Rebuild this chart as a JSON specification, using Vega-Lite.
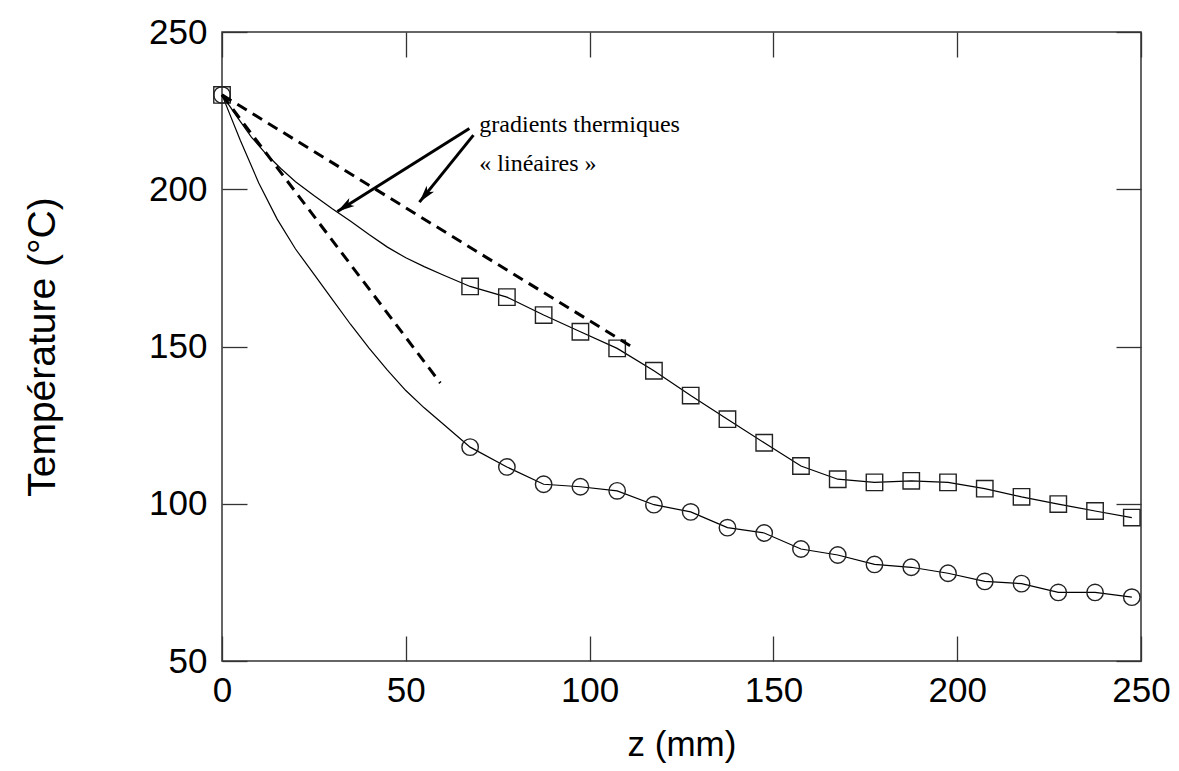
{
  "$schema": "https://vega.github.io/schema/vega-lite/v6.json",
  "width": 919,
  "height": 629,
  "autosize": {"type": "none"},
  "padding": {"left": 222, "top": 32, "right": 38, "bottom": 110},
  "background": "white",
  "config": {
    "view": {"stroke": "#333", "strokeWidth": 1.5},
    "axis": {
      "grid": false,
      "domain": false,
      "labelFont": "Liberation Sans",
      "titleFont": "Liberation Sans",
      "labelColor": "#000",
      "titleColor": "#000",
      "titleFontWeight": "normal",
      "tickColor": "#333",
      "tickWidth": 1.3,
      "tickSize": -25,
      "labelFlush": false,
      "labelOverlap": false,
      "labelBound": false
    }
  },
  "datasets": {
    "curves": [
      {"series": "carrés", "z": 0, "T": 230},
      {"series": "carrés", "z": 4, "T": 223.2},
      {"series": "carrés", "z": 8, "T": 216.6},
      {"series": "carrés", "z": 12, "T": 211.2},
      {"series": "carrés", "z": 16, "T": 206.6},
      {"series": "carrés", "z": 20, "T": 202.4},
      {"series": "carrés", "z": 25, "T": 198},
      {"series": "carrés", "z": 30, "T": 193.8},
      {"series": "carrés", "z": 35, "T": 189.8},
      {"series": "carrés", "z": 40, "T": 185.6},
      {"series": "carrés", "z": 45, "T": 181.6},
      {"series": "carrés", "z": 50, "T": 178.2},
      {"series": "carrés", "z": 55, "T": 175.4},
      {"series": "carrés", "z": 60, "T": 172.8},
      {"series": "carrés", "z": 67.5, "T": 169.1},
      {"series": "carrés", "z": 77.5, "T": 165.7},
      {"series": "carrés", "z": 87.5, "T": 160.0},
      {"series": "carrés", "z": 97.5, "T": 154.7},
      {"series": "carrés", "z": 107.5, "T": 149.4},
      {"series": "carrés", "z": 117.5, "T": 142.3},
      {"series": "carrés", "z": 127.5, "T": 134.4},
      {"series": "carrés", "z": 137.5, "T": 126.9},
      {"series": "carrés", "z": 147.5, "T": 119.4},
      {"series": "carrés", "z": 157.5, "T": 112.0},
      {"series": "carrés", "z": 167.5, "T": 107.8},
      {"series": "carrés", "z": 177.5, "T": 106.8},
      {"series": "carrés", "z": 187.5, "T": 107.3},
      {"series": "carrés", "z": 197.5, "T": 106.8},
      {"series": "carrés", "z": 207.5, "T": 104.8},
      {"series": "carrés", "z": 217.5, "T": 102.2},
      {"series": "carrés", "z": 227.5, "T": 99.9},
      {"series": "carrés", "z": 237.5, "T": 97.7},
      {"series": "carrés", "z": 247.5, "T": 95.6},
      {"series": "cercles", "z": 0, "T": 230},
      {"series": "cercles", "z": 5, "T": 215.5},
      {"series": "cercles", "z": 10, "T": 202},
      {"series": "cercles", "z": 15, "T": 190.5},
      {"series": "cercles", "z": 20, "T": 181},
      {"series": "cercles", "z": 25, "T": 173},
      {"series": "cercles", "z": 30, "T": 165},
      {"series": "cercles", "z": 35, "T": 157},
      {"series": "cercles", "z": 40, "T": 149.5},
      {"series": "cercles", "z": 45, "T": 142.5},
      {"series": "cercles", "z": 50, "T": 136},
      {"series": "cercles", "z": 55, "T": 130.5},
      {"series": "cercles", "z": 60, "T": 125.5},
      {"series": "cercles", "z": 67.5, "T": 118.0},
      {"series": "cercles", "z": 77.5, "T": 111.7},
      {"series": "cercles", "z": 87.5, "T": 106.2},
      {"series": "cercles", "z": 97.5, "T": 105.4},
      {"series": "cercles", "z": 107.5, "T": 104.1},
      {"series": "cercles", "z": 117.5, "T": 99.7},
      {"series": "cercles", "z": 127.5, "T": 97.4},
      {"series": "cercles", "z": 137.5, "T": 92.4},
      {"series": "cercles", "z": 147.5, "T": 90.7},
      {"series": "cercles", "z": 157.5, "T": 85.6},
      {"series": "cercles", "z": 167.5, "T": 83.7},
      {"series": "cercles", "z": 177.5, "T": 80.7},
      {"series": "cercles", "z": 187.5, "T": 79.8},
      {"series": "cercles", "z": 197.5, "T": 77.9},
      {"series": "cercles", "z": 207.5, "T": 75.3},
      {"series": "cercles", "z": 217.5, "T": 74.6},
      {"series": "cercles", "z": 227.5, "T": 71.8},
      {"series": "cercles", "z": 237.5, "T": 71.8},
      {"series": "cercles", "z": 247.5, "T": 70.3}
    ],
    "markers": [
      {"series": "carrés", "z": 0, "T": 230},
      {"series": "carrés", "z": 67.5, "T": 169.1},
      {"series": "carrés", "z": 77.5, "T": 165.7},
      {"series": "carrés", "z": 87.5, "T": 160.0},
      {"series": "carrés", "z": 97.5, "T": 154.7},
      {"series": "carrés", "z": 107.5, "T": 149.4},
      {"series": "carrés", "z": 117.5, "T": 142.3},
      {"series": "carrés", "z": 127.5, "T": 134.4},
      {"series": "carrés", "z": 137.5, "T": 126.9},
      {"series": "carrés", "z": 147.5, "T": 119.4},
      {"series": "carrés", "z": 157.5, "T": 112.0},
      {"series": "carrés", "z": 167.5, "T": 107.8},
      {"series": "carrés", "z": 177.5, "T": 106.8},
      {"series": "carrés", "z": 187.5, "T": 107.3},
      {"series": "carrés", "z": 197.5, "T": 106.8},
      {"series": "carrés", "z": 207.5, "T": 104.8},
      {"series": "carrés", "z": 217.5, "T": 102.2},
      {"series": "carrés", "z": 227.5, "T": 99.9},
      {"series": "carrés", "z": 237.5, "T": 97.7},
      {"series": "carrés", "z": 247.5, "T": 95.6},
      {"series": "cercles", "z": 0, "T": 230},
      {"series": "cercles", "z": 67.5, "T": 118.0},
      {"series": "cercles", "z": 77.5, "T": 111.7},
      {"series": "cercles", "z": 87.5, "T": 106.2},
      {"series": "cercles", "z": 97.5, "T": 105.4},
      {"series": "cercles", "z": 107.5, "T": 104.1},
      {"series": "cercles", "z": 117.5, "T": 99.7},
      {"series": "cercles", "z": 127.5, "T": 97.4},
      {"series": "cercles", "z": 137.5, "T": 92.4},
      {"series": "cercles", "z": 147.5, "T": 90.7},
      {"series": "cercles", "z": 157.5, "T": 85.6},
      {"series": "cercles", "z": 167.5, "T": 83.7},
      {"series": "cercles", "z": 177.5, "T": 80.7},
      {"series": "cercles", "z": 187.5, "T": 79.8},
      {"series": "cercles", "z": 197.5, "T": 77.9},
      {"series": "cercles", "z": 207.5, "T": 75.3},
      {"series": "cercles", "z": 217.5, "T": 74.6},
      {"series": "cercles", "z": 227.5, "T": 71.8},
      {"series": "cercles", "z": 237.5, "T": 71.8},
      {"series": "cercles", "z": 247.5, "T": 70.3}
    ],
    "gradients": [
      {"ligne": "raide", "z": 0, "T": 230},
      {"ligne": "raide", "z": 59.4, "T": 138.4},
      {"ligne": "douce", "z": 0, "T": 230},
      {"ligne": "douce", "z": 112.5, "T": 149.2}
    ],
    "arrows": [
      {"arrow": "a1", "z": 67.3, "T": 219.3, "z2": 31.4, "T2": 192.9},
      {"arrow": "a2", "z": 68.4, "T": 217.2, "z2": 53.7, "T2": 195.9}
    ],
    "labels": [
      {"text": "gradients thermiques", "z": 70.0, "T": 218.3},
      {"text": "« linéaires »", "z": 70.0, "T": 205.9}
    ]
  },
  "layer": [
    {
      "data": {"name": "curves"},
      "mark": {"type": "line", "color": "#000", "strokeWidth": 1.2},
      "encoding": {
        "x": {"field": "z", "type": "quantitative", "scale": {"domain": [0, 250], "nice": false, "zero": false},
          "axis": {"orient": "bottom", "values": [0, 50, 100, 150, 200, 250], "labelFontSize": 35, "labelPadding": 37, "title": "z (mm)", "titleFontSize": 35, "titlePadding": 19}},
        "y": {"field": "T", "type": "quantitative", "scale": {"domain": [50, 250], "nice": false, "zero": false},
          "axis": {"orient": "left", "values": [50, 100, 150, 200, 250], "labelFontSize": 35, "labelPadding": 40, "title": "Température (°C)", "titleFontSize": 39, "titlePadding": 86}},
        "detail": {"field": "series"}
      }
    },
    {
      "data": {"name": "markers"},
      "mark": {"type": "point", "filled": false, "stroke": "#222", "strokeWidth": 1.4, "size": 270, "opacity": 1},
      "encoding": {
        "x": {"field": "z", "type": "quantitative", "scale": {"domain": [0, 250], "nice": false, "zero": false},
          "axis": {"orient": "top", "values": [0, 50, 100, 150, 200, 250], "labels": false, "title": null}},
        "y": {"field": "T", "type": "quantitative", "scale": {"domain": [50, 250], "nice": false, "zero": false},
          "axis": {"orient": "right", "values": [50, 100, 150, 200, 250], "labels": false, "title": null}},
        "shape": {"field": "series", "type": "nominal", "scale": {"domain": ["carrés", "cercles"], "range": ["square", "circle"]}, "legend": null}
      }
    },
    {
      "data": {"name": "gradients"},
      "mark": {"type": "line", "color": "#000", "strokeWidth": 3, "strokeDash": [11, 7]},
      "encoding": {
        "x": {"field": "z", "type": "quantitative", "axis": null},
        "y": {"field": "T", "type": "quantitative", "axis": null},
        "detail": {"field": "ligne"}
      }
    },
    {
      "data": {"name": "arrows"},
      "mark": {"type": "rule", "color": "#000", "strokeWidth": 3},
      "encoding": {
        "x": {"field": "z", "type": "quantitative", "axis": null},
        "y": {"field": "T", "type": "quantitative", "axis": null},
        "x2": {"field": "z2"},
        "y2": {"field": "T2"}
      }
    },
    {
      "data": {"name": "arrows"},
      "transform": [{"filter": "datum.arrow === 'a1'"}],
      "mark": {"type": "point", "shape": "M0,0 L0.55,2 L0,1.5 L-0.55,2 Z", "filled": true, "color": "#000", "size": 300, "opacity": 1, "angle": 236.8},
      "encoding": {
        "x": {"field": "z2", "type": "quantitative", "axis": null},
        "y": {"field": "T2", "type": "quantitative", "axis": null}
      }
    },
    {
      "data": {"name": "arrows"},
      "transform": [{"filter": "datum.arrow === 'a2'"}],
      "mark": {"type": "point", "shape": "M0,0 L0.55,2 L0,1.5 L-0.55,2 Z", "filled": true, "color": "#000", "size": 300, "opacity": 1, "angle": 219},
      "encoding": {
        "x": {"field": "z2", "type": "quantitative", "axis": null},
        "y": {"field": "T2", "type": "quantitative", "axis": null}
      }
    },
    {
      "data": {"name": "labels"},
      "mark": {"type": "text", "font": "Liberation Serif", "fontSize": 24, "align": "left", "baseline": "alphabetic", "color": "#000"},
      "encoding": {
        "x": {"field": "z", "type": "quantitative", "axis": null},
        "y": {"field": "T", "type": "quantitative", "axis": null},
        "text": {"field": "text"}
      }
    }
  ],
  "resolve": {"axis": {"x": "independent", "y": "independent"}}
}
